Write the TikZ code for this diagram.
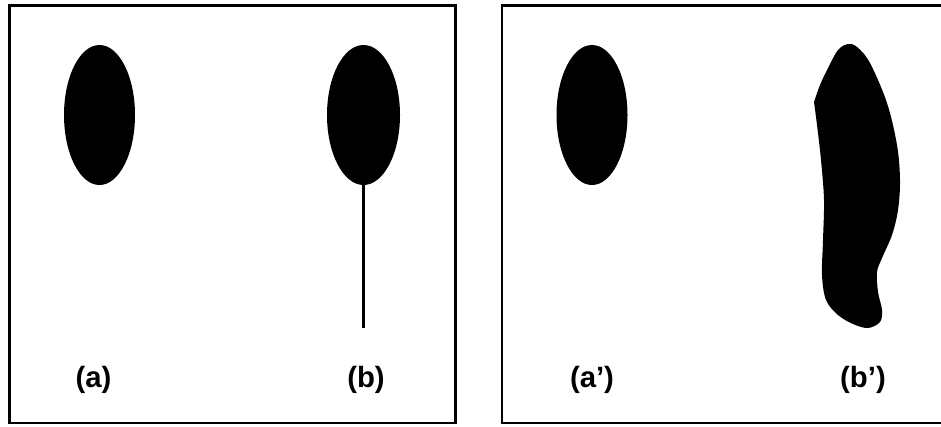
\documentclass[tikz,border=0pt]{standalone}
\usepackage{fontspec}
\setmainfont{Liberation Sans}
\usetikzlibrary{shapes.geometric}
\begin{document}
\begin{tikzpicture}[x=0.75pt,y=-0.75pt]
% Styles
\tikzstyle{cadre}=[line width=2.2pt]
\tikzstyle{tache}=[ellipse,fill=black,inner sep=0pt,minimum height=105pt]
\tikzstyle{tige}=[line width=2pt]
\tikzstyle{etiquette}=[font=\fontsize{22}{26}\selectfont\bfseries,inner sep=0pt]
% Dimensions
\def\haut{5.5}
\def\bas{423}
\def\ytache{115}
\def\yetiq{380}
\useasboundingbox (0,0) rectangle (941,426);
% Cadre gauche
\draw[cadre] (9.5,\haut) rectangle (455.5,\bas);
% Cadre droit (coupe au bord)
\draw[cadre] (960,\haut) -- (502,\haut) -- (502,\bas) -- (960,\bas);
% Taches (a) et (b)
\node[tache,minimum width=53.25pt] (a) at (99.5,\ytache) {};
\node[tache,minimum width=54.75pt] (b) at (363.5,\ytache) {};
\coordinate (bbas) at (363.5,328);
\draw[tige] (b.south) -- (bbas);
% Taches (a') et (b')
\node[tache,minimum width=53.25pt] (ap) at (592,\ytache) {};
\fill plot[smooth,tension=0.55] coordinates {(814,102) (817,125) (821,160) (824,200) (823,240) (822,275) (826,300) (838,315) (853,324) (868,328) (880,322) (882,310) (878,292) (877,272) (882,258) (892,235) (898,210) (900,180) (897,145) (887,103) (870,63) (857,47) (848,44) (838,50) (828,68) (820,85) (814,102)};
% Etiquettes
\node[etiquette] (la) at (93.5,\yetiq) {(a)};
\node[etiquette] (lb) at (366,\yetiq) {(b)};
\node[etiquette] (lap) at (592,\yetiq) {(a’)};
\node[etiquette] (lbp) at (863,\yetiq) {(b’)};
\end{tikzpicture}
\end{document}
